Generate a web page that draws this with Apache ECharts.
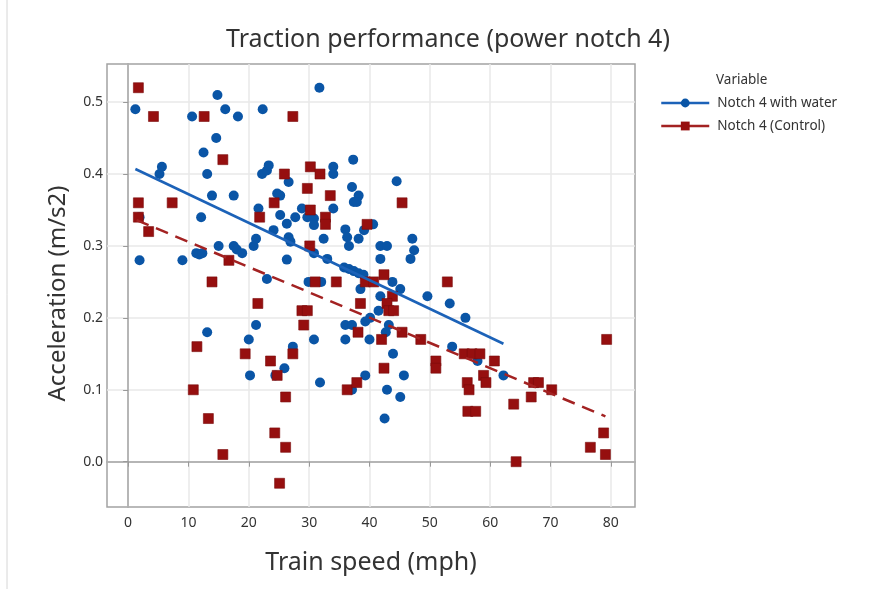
<!DOCTYPE html>
<html>
<head>
<meta charset="utf-8">
<style>
  html, body { margin: 0; padding: 0; background: #ffffff; }
  #chart { width: 878px; height: 589px; }
</style>
<script src="https://cdn.jsdelivr.net/npm/echarts@6/dist/echarts.min.js"></script>
</head>
<body>
<div id="chart"></div>
<script>
// Acceleration vs train speed, power notch 4
const seriesNames = ['Notch 4 with water', 'Notch 4 (Control)'];

// [speed mph, acceleration m/s2]
const withWater = [
  [1.2,0.49],[1.9,0.28],[1.9,0.34],[5.2,0.40],[5.6,0.41],[9.0,0.28],[10.6,0.48],[14.8,0.51],
  [16.1,0.49],[18.2,0.48],[22.3,0.49],[14.6,0.45],[12.5,0.43],[13.1,0.40],[13.9,0.37],[17.5,0.37],
  [12.1,0.34],[11.3,0.29],[11.8,0.288],[12.3,0.29],[15.0,0.30],[17.5,0.30],[18.0,0.295],[18.9,0.29],
  [20.8,0.30],[21.2,0.31],[21.6,0.352],[22.2,0.40],[23.0,0.405],[23.3,0.412],[24.1,0.322],[24.7,0.373],
  [25.2,0.37],[23.0,0.254],[26.6,0.389],[25.2,0.343],[26.3,0.331],[27.7,0.34],[28.8,0.352],[29.7,0.34],
  [30.8,0.338],[30.8,0.329],[26.6,0.312],[26.9,0.306],[30.8,0.29],[26.3,0.281],[31.7,0.52],[34.0,0.41],
  [34.0,0.40],[37.3,0.42],[44.5,0.39],[37.1,0.382],[38.2,0.37],[37.4,0.361],[37.9,0.361],[34.0,0.352],
  [40.6,0.33],[36.0,0.323],[36.3,0.312],[36.6,0.30],[39.1,0.322],[38.2,0.31],[32.4,0.31],[47.1,0.31],
  [47.4,0.294],[46.8,0.282],[41.8,0.30],[42.9,0.30],[41.8,0.282],[33.0,0.282],[35.8,0.27],[36.6,0.268],
  [37.4,0.265],[38.2,0.262],[39.0,0.26],[29.9,0.25],[32.0,0.25],[43.8,0.25],[45.1,0.24],[38.5,0.24],
  [49.6,0.23],[41.8,0.23],[41.5,0.21],[36.0,0.19],[37.1,0.19],[39.3,0.195],[40.1,0.20],[43.2,0.19],
  [42.7,0.18],[30.8,0.17],[36.0,0.17],[40.0,0.17],[43.9,0.15],[39.3,0.12],[45.7,0.12],[31.8,0.11],
  [37.1,0.10],[42.9,0.10],[45.1,0.09],[42.5,0.06],[53.3,0.22],[55.9,0.20],[53.7,0.16],[57.9,0.14],
  [62.2,0.12],[21.2,0.19],[13.1,0.18],[20.0,0.17],[27.3,0.16],[25.9,0.13],[20.2,0.12],[24.4,0.12]
];

const control = [
  [1.7,0.52],[4.2,0.48],[12.6,0.48],[15.7,0.42],[1.7,0.36],[7.3,0.36],[1.7,0.34],[3.4,0.32],
  [21.8,0.34],[24.2,0.36],[16.7,0.28],[13.9,0.25],[21.5,0.22],[11.4,0.16],[19.4,0.15],[23.6,0.14],
  [24.7,0.12],[10.8,0.10],[13.3,0.06],[24.3,0.04],[15.7,0.01],[25.1,-0.03],[27.3,0.48],[25.9,0.40],
  [30.2,0.41],[31.8,0.40],[29.7,0.38],[33.5,0.37],[45.4,0.36],[30.2,0.35],[32.7,0.34],[32.7,0.33],
  [39.6,0.33],[30.1,0.30],[42.4,0.26],[52.9,0.25],[31.0,0.25],[34.5,0.25],[39.3,0.25],[40.7,0.25],
  [43.8,0.23],[38.5,0.22],[42.9,0.22],[28.8,0.21],[29.7,0.21],[43.2,0.21],[44.0,0.21],[29.1,0.19],
  [38.1,0.18],[45.4,0.18],[48.5,0.17],[42.0,0.17],[27.3,0.15],[42.4,0.13],[51.0,0.14],[51.0,0.13],
  [36.3,0.10],[37.9,0.11],[26.1,0.09],[26.1,0.02],[55.7,0.15],[57.0,0.15],[58.3,0.15],[60.7,0.14],
  [58.9,0.12],[59.3,0.11],[56.2,0.11],[56.5,0.10],[67.2,0.11],[68.0,0.11],[66.8,0.09],[70.2,0.10],
  [56.3,0.07],[57.6,0.07],[63.9,0.08],[64.3,0.0],[79.3,0.17],[78.8,0.04],[76.6,0.02],[79.1,0.01]
];

// fitted trend lines, end points
const fitWater = [[1.2, 0.407], [62.2, 0.164]];
const fitControl = [[1.4, 0.336], [79.1, 0.063]];

// tick labels
const xTicks = [0, 10, 20, 30, 40, 50, 60, 70, 80];
const yTicks = [0, 0.1, 0.2, 0.3, 0.4, 0.5];

const FONT = 'Noto Sans';
const BLUE = '#0a55a6';
const BLUE_LINE = '#1c62b8';
const RED = '#960f0f';
const RED_LINE = '#a32222';

const chart = echarts.init(document.getElementById('chart'));

chart.setOption({
  animation: false,
  textStyle: { fontFamily: FONT },
  graphic: [
    {
      type: 'text', x: 448, y: 40,
      style: { text: 'Traction performance (power notch 4)', fontFamily: FONT, fontSize: 25,
               fill: '#333', align: 'center', verticalAlign: 'middle' }
    },
    {
      type: 'text', x: 716, y: 80,
      style: { text: 'Variable', fontFamily: FONT, fontSize: 13.5, fill: '#333',
               verticalAlign: 'middle' }
    },
    {
      type: 'line', shape: { x1: 7, y1: 0, x2: 7, y2: 589 },
      style: { stroke: '#d6d6d6', lineWidth: 1 }
    }
  ],
  legend: {
    orient: 'vertical',
    left: 655,
    top: 91,
    itemWidth: 48,
    itemHeight: 11,
    itemGap: 9,
    data: seriesNames,
    lineStyle: { type: 'solid', width: 2.5 },
    textStyle: { fontFamily: FONT, fontSize: 13.5, color: '#333', padding: [0, 0, 0, 3] }
  },
  grid: {
    left: 107, right: 243, top: 64, bottom: 82,
    show: true, borderColor: '#a3a3a3', borderWidth: 1.5, backgroundColor: '#fff'
  },
  xAxis: {
    type: 'value',
    min: -3.5, max: 84,
    name: 'Train speed (mph)',
    nameLocation: 'middle',
    nameGap: 43,
    nameTextStyle: { fontFamily: FONT, fontSize: 25, color: '#333' },
    axisLine: { show: true, lineStyle: { color: '#a3a3a3', width: 1.5 } },
    axisTick: { show: true, length: 5, customValues: xTicks, lineStyle: { color: '#999' } },
    axisLabel: { customValues: xTicks, fontSize: 14, color: '#333', margin: 9 },
    splitLine: { show: true, lineStyle: { color: '#e9e9e9', width: 1.5 } }
  },
  yAxis: {
    type: 'value',
    min: -0.063, max: 0.553,
    name: 'Acceleration (m/s2)',
    nameLocation: 'middle',
    nameGap: 37,
    nameTextStyle: { fontFamily: FONT, fontSize: 24, color: '#333', padding: [0, 16, 0, 0] },
    axisLine: { show: true, lineStyle: { color: '#a3a3a3', width: 1.5 } },
    axisTick: { show: true, length: 5, customValues: yTicks, lineStyle: { color: '#999' } },
    axisLabel: { customValues: yTicks, fontSize: 14, color: '#333', margin: 4,
                 formatter: v => v.toFixed(1) },
    splitLine: { show: true, lineStyle: { color: '#e9e9e9', width: 1.5 } }
  },
  series: [
    {
      name: seriesNames[0], type: 'line', data: fitWater, z: 5,
      symbol: 'circle', showSymbol: false, silent: true,
      lineStyle: { color: BLUE_LINE, width: 2.5 }, itemStyle: { color: BLUE }
    },
    {
      name: seriesNames[1], type: 'line', data: fitControl, z: 5,
      symbol: 'rect', showSymbol: false, silent: true,
      lineStyle: { color: RED_LINE, width: 2.5, type: [13, 8] }, itemStyle: { color: RED }
    },
    {
      name: seriesNames[0], type: 'scatter', data: withWater, z: 3,
      symbol: 'circle', symbolSize: 10,
      itemStyle: { color: BLUE, opacity: 1 }
    },
    {
      name: seriesNames[1], type: 'scatter', data: control, z: 4,
      symbol: 'rect', symbolSize: 10,
      itemStyle: { color: RED, borderColor: '#7a0b0b', borderWidth: 0.6, opacity: 1 }
    }
  ]
});
</script>
</body>
</html>
